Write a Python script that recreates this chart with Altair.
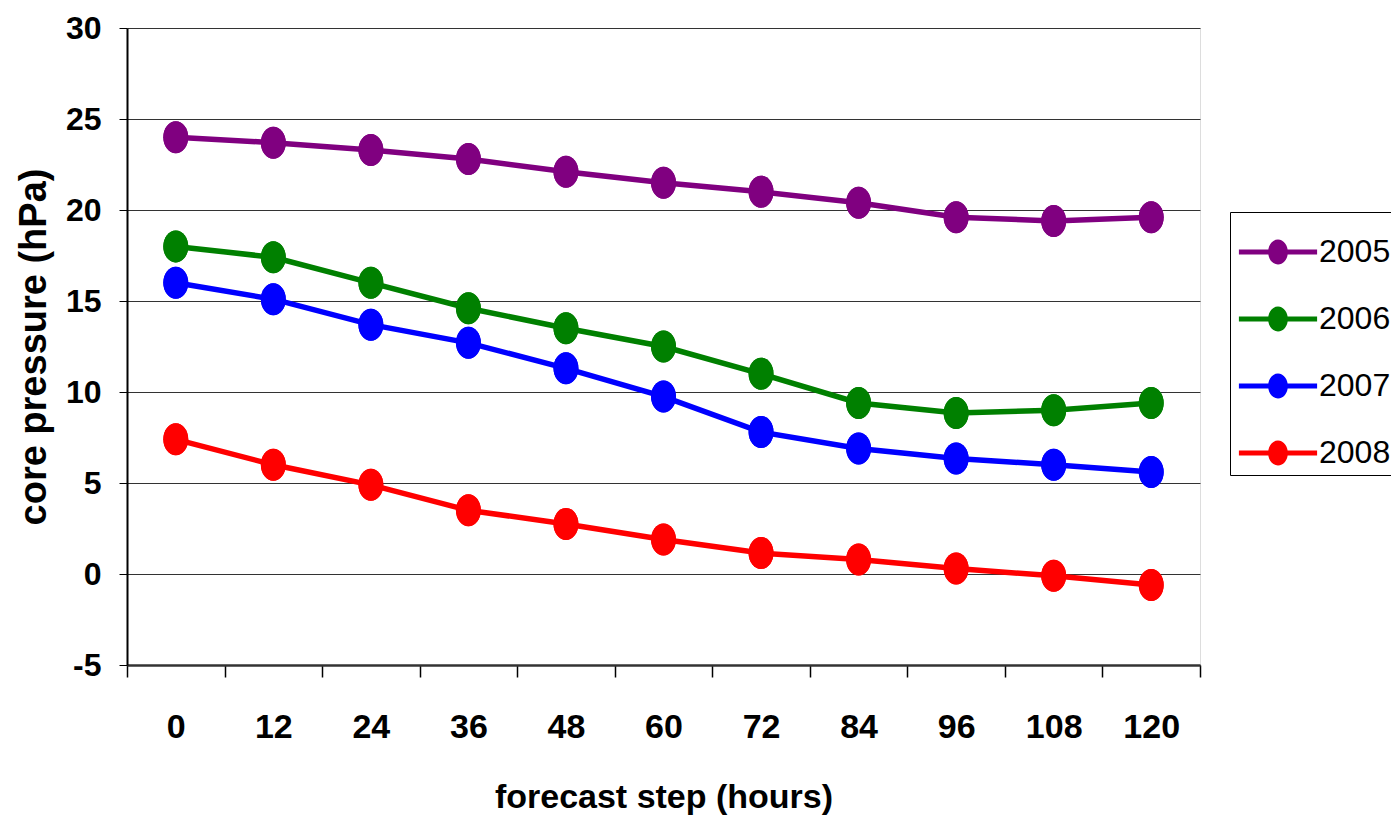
import altair as alt
import pandas as pd

steps = ["0", "12", "24", "36", "48", "60", "72", "84", "96", "108", "120"]
years = ["2005", "2006", "2007", "2008"]
colors = ["#800080", "#008000", "#0000FF", "#FF0000"]

v2005 = [24.0, 23.7, 23.3, 22.8, 22.1, 21.5, 21.0, 20.4, 19.6, 19.4, 19.6]
v2006 = [18.0, 17.4, 16.0, 14.6, 13.5, 12.5, 11.0, 9.4, 8.85, 9.0, 9.4]
v2007 = [16.0, 15.1, 13.7, 12.7, 11.3, 9.75, 7.8, 6.9, 6.35, 6.0, 5.6]
v2008 = [7.4, 6.0, 4.9, 3.5, 2.75, 1.9, 1.15, 0.8, 0.3, -0.1, -0.6]

y_ticks = [-5, 0, 5, 10, 15, 20, 25, 30]

rows = []
for yr, vals in zip(years, [v2005, v2006, v2007, v2008]):
    for s, v in zip(steps, vals):
        rows.append({"step": s, "value": v, "year": yr})
df = pd.DataFrame(rows)

FONT = "Liberation Sans"

ellipse = "M 0 -1 A 0.78 1 0 1 1 0 1 A 0.78 1 0 1 1 0 -1 Z"
legend_sym = ("M -1.15 -0.075 L 1.15 -0.075 L 1.15 0.075 L -1.15 0.075 Z "
              "M 0 -0.37 A 0.29 0.37 0 1 1 0 0.37 A 0.29 0.37 0 1 1 0 -0.37 Z")

x_enc = alt.X(
    "step:O",
    sort=steps,
    scale=alt.Scale(type="band", paddingInner=0, paddingOuter=0),
    axis=alt.Axis(
        title="forecast step (hours)",
        labelAngle=0,
        tickBand="extent",
        tickSize=12,
        tickColor="#000000",
        tickWidth=1.5,
        domainColor="#333333",
        domainWidth=2.5,
        labelFont=FONT,
        labelFontWeight="bold",
        labelFontSize=34,
        labelColor="#000000",
        labelPadding=33,
        labelBaseline="top",
        titleFont=FONT,
        titleFontWeight="bold",
        titleFontSize=34,
        titleColor="#000000",
        titlePadding=36,
        grid=False,
    ),
)
y_enc = alt.Y(
    "value:Q",
    scale=alt.Scale(domain=[-5, 30], nice=False, zero=False),
    axis=alt.Axis(
        title="core pressure (hPa)",
        values=y_ticks,
        labelExpr="datum.value < 0 ? '-' + abs(datum.value) : datum.label",
        tickSize=8,
        tickColor="#000000",
        domainColor="#000000",
        domainWidth=2,
        gridColor="#333333",
        gridWidth=1.2,
        labelFont=FONT,
        labelFontWeight="bold",
        labelFontSize=32,
        labelColor="#000000",
        labelPadding=18,
        titleFont=FONT,
        titleFontWeight="bold",
        titleFontSize=38,
        titleColor="#000000",
        titlePadding=12,
    ),
)
color_enc = alt.Color(
    "year:N",
    scale=alt.Scale(domain=years, range=colors),
    legend=alt.Legend(
        title=None,
        orient="none",
        legendX=1103,
        legendY=184,
        strokeColor="#000000",
        fillColor="#ffffff",
        padding=6,
        symbolType=legend_sym,
        symbolSize=4624,
        symbolStrokeWidth=0,
        symbolOffset=8,
        labelOffset=7,
        labelFont=FONT,
        labelFontSize=32,
        labelColor="#000000",
        rowPadding=17,
        labelLimit=300,
    ),
)

points = alt.Chart(df).mark_point(
    shape=ellipse, size=1024, filled=True, opacity=1
).encode(x=x_enc, y=y_enc, color=color_enc)

lines = alt.Chart(df).mark_line(strokeWidth=5.5).encode(
    x=x_enc, y=y_enc, color=color_enc, detail="year:N"
)

chart = (
    alt.layer(points, lines, points)
    .properties(
        width=1073,
        height=637,
        padding={"left": 119, "top": 20, "right": 191, "bottom": 151},
        autosize=alt.AutoSizeParams(type="none"),
    )
    .configure_view(stroke="#999999", strokeWidth=3)
    .configure(background="#ffffff")
)

chart.save("out.html", embed_options={"renderer": "svg", "actions": False})
